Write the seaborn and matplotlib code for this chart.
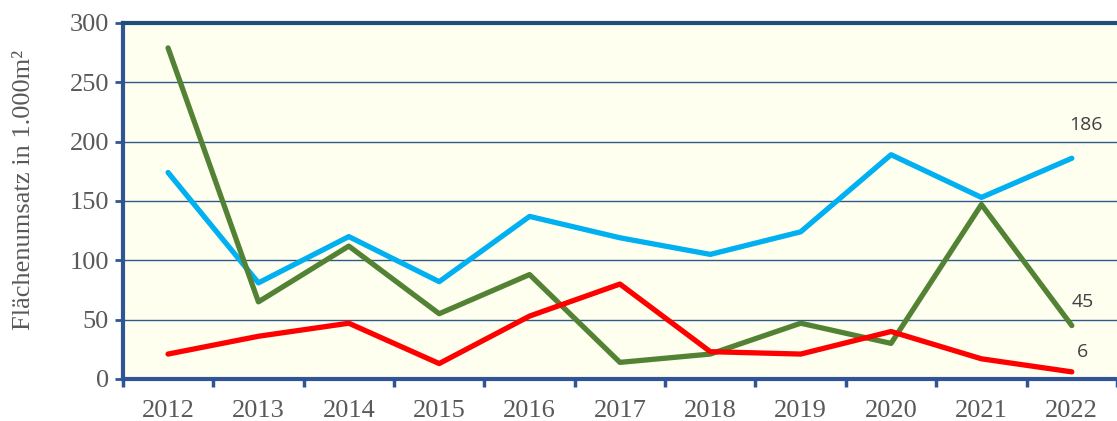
import numpy as np
import pandas as pd
import matplotlib
matplotlib.use("Agg")
import matplotlib.pyplot as plt
import seaborn as sns

years = [2012, 2013, 2014, 2015, 2016, 2017, 2018, 2019, 2020, 2021, 2022]
blue_vals = [174, 81, 120, 82, 137, 119, 105, 124, 189, 153, 186]
green_vals = [279, 65, 112, 55, 88, 14, 21, 47, 30, 147, 45]
red_vals = [21, 36, 47, 13, 53, 80, 23, 21, 40, 17, 6]
end_labels = ["186", "45", "6"]

df = pd.DataFrame({
    "year": years * 3,
    "wert": blue_vals + green_vals + red_vals,
    "serie": ["blau"] * 11 + ["gruen"] * 11 + ["rot"] * 11,
})
palette = {"blau": "#00B0F0", "gruen": "#548235", "rot": "#FF0000"}

sns.set_style("white")
plt.rcParams["font.family"] = ["Liberation Serif", "DejaVu Serif"]

fig = plt.figure(figsize=(11.17, 4.21), dpi=100)
ax = fig.add_axes([0.110, 0.0998, 0.890, 0.8456])
ax.set_facecolor("#FFFFF0")

sns.lineplot(data=df, x="year", y="wert", hue="serie", palette=palette,
             linewidth=3.8, legend=False, ax=ax, solid_capstyle="round")

ax.set_ylim(0, 300)
ax.set_xlim(2011.5, 2022.42)
ax.set_yticks(range(0, 301, 50))
ax.set_xticks(years)
ax.set_xticks([y - 0.5 for y in years] + [2022.5], minor=True)
ax.tick_params(axis="x", which="major", bottom=True, length=0, pad=15,
               labelsize=19, labelcolor="#595959")
ax.tick_params(axis="x", which="minor", bottom=True, length=6, width=2.5,
               color="#2F5597", direction="out")
ax.tick_params(axis="y", left=True, length=6, width=2, color="#2F5597", direction="out",
               pad=4, labelsize=19, labelcolor="#595959")
ax.grid(axis="y", color="#2E5A88", linewidth=1.0)
ax.grid(axis="x", visible=False)
ax.set_axisbelow(True)

for side in ["left", "bottom"]:
    ax.spines[side].set_color("#2F5597")
    ax.spines[side].set_linewidth(3)
ax.spines["top"].set_color("#1F4E79")
ax.spines["top"].set_linewidth(3)
ax.spines["right"].set_visible(False)

ax.set_xlabel("")
ax.set_ylabel("Flächenumsatz in 1.000m²", fontsize=19, color="#595959")
ax.yaxis.set_label_coords(-0.088, 0.53)

offsets = [(10, 24), (8, 17), (8, 14)]
for vals, lab, off in zip([blue_vals, green_vals, red_vals], end_labels, offsets):
    ax.annotate(lab, xy=(years[-1], vals[-1]), xytext=off, textcoords="offset points",
                ha="center", va="center", fontsize=14, color="#404040",
                family=["Open Sans", "DejaVu Sans"])

fig.savefig("out.png", dpi=100)
